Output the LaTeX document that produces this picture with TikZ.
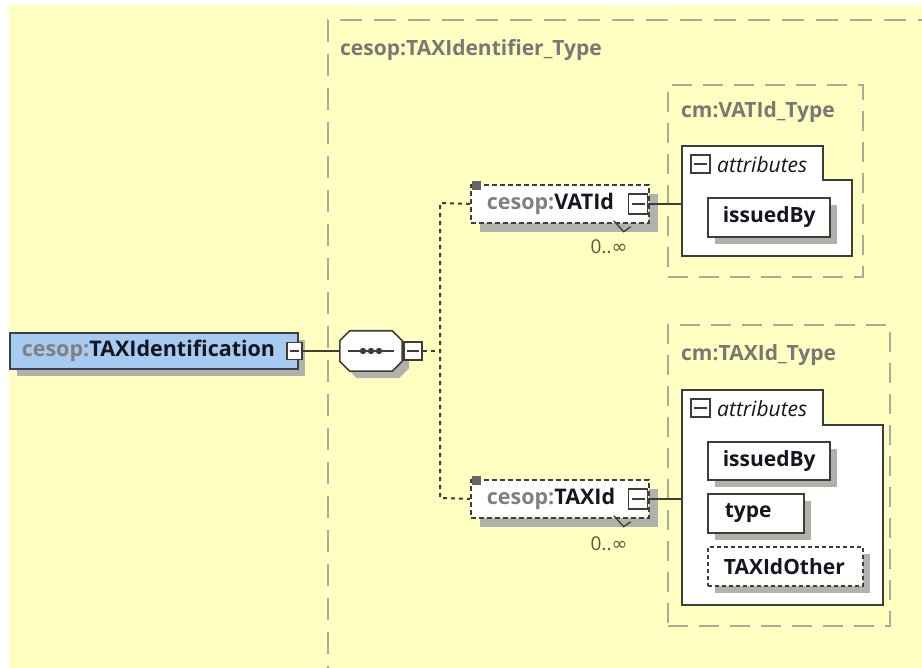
\documentclass[tikz,border=0pt]{standalone}
\usepackage{fontspec}
\setmainfont{Open Sans}
\newfontfamily\symfont{DejaVu Sans}
\usetikzlibrary{shadows}
\definecolor{bgyellow}{RGB}{255,255,194}
\definecolor{rootblue}{RGB}{166,202,240}
\definecolor{rootedge}{RGB}{58,64,76}
\definecolor{shade}{RGB}{178,178,172}
\definecolor{typegray}{RGB}{170,170,156}
\definecolor{edge}{RGB}{62,62,54}
\definecolor{pfx}{RGB}{128,128,128}
\definecolor{ink}{RGB}{22,22,32}
\definecolor{titlegray}{RGB}{120,120,116}
\definecolor{mult}{RGB}{90,90,60}
\tikzset{
  boxshadow/.style={general shadow={fill=shade, shadow xshift=#1, shadow yshift=-#1}},
  boxshadow/.default=7pt,
  elemtxt/.style={font=\bfseries\fontsize{21.5}{24}\selectfont, text=ink},
  rootbox/.style={elemtxt, draw=rootedge, line width=1.6pt, fill=rootblue, boxshadow,
    minimum height=36pt, anchor=north west, inner xsep=12pt, text width=264pt, align=left},
  elembox/.style={elemtxt, draw=edge, line width=1.7pt, dash pattern=on 5pt off 3pt, fill=white,
    boxshadow=9pt, minimum height=38pt, anchor=north west, inner xsep=16pt, text width=146pt, align=left},
  minusbox/.style={draw=edge, fill=white, line width=1.3pt, minimum width=15pt, minimum height=17pt,
    inner sep=0pt, path picture={\draw[edge, line width=1.3pt]
      ([xshift=3pt]path picture bounding box.west) -- ([xshift=-3pt]path picture bounding box.east);}},
  seqframe/.style={draw=none, minimum width=62pt, minimum height=40pt, inner sep=0pt},
  seqoct/.style={draw=edge, fill=white, line width=1.6pt, boxshadow},
  conn/.style={draw=edge, line width=1.6pt},
  dotconn/.style={draw=edge, line width=2pt, dash pattern=on 4pt off 4pt},
  outerdash/.style={draw=typegray, line width=2pt, dash pattern=on 22pt off 12pt},
  typebox/.style={draw=typegray, line width=2pt, dash pattern=on 20pt off 11pt},
  titletxt/.style={font=\bfseries\fontsize{21}{24}\selectfont, text=titlegray, inner sep=0pt},
  attrpoly/.style={draw=edge, fill=white, line width=1.7pt},
  attrlbl/.style={font=\itshape\fontsize{21}{24}\selectfont, text=ink, inner sep=0pt},
  attrname/.style={font=\bfseries\fontsize{21}{24}\selectfont, text=ink, draw=edge, line width=1.6pt,
    fill=white, boxshadow, anchor=north west, align=left},
  multtxt/.style={font=\fontsize{19}{21}\selectfont, text=mult, inner sep=0pt},
}
\begin{document}
\begin{tikzpicture}[x=1pt,y=-1pt]
\path[fill=white] (0,0) rectangle (922,668);
\fill[bgyellow] (9,5) rectangle (922,668);
\clip (0,0) rectangle (922,668);

% outer type box
\draw[outerdash] (940,20) -- (328,20) -- (328,700);
\node[titletxt, anchor=west] (outertitle) at (340,50) {cesop:TAXIdentifier\_Type};

% root element
\node[rootbox] (root) at (9,332) {{\color{pfx}cesop:}TAXIdentification};
\node[minusbox] (rootmin) at (294.5,351) {};

% sequence compositor
\node[seqframe] (seq) at (371,351) {};
\draw[seqoct] ([xshift=10pt]seq.north west) -- ([xshift=-10pt]seq.north east)
  -- ([yshift=-10pt]seq.north east) -- ([yshift=10pt]seq.south east)
  -- ([xshift=-10pt]seq.south east) -- ([xshift=10pt]seq.south west)
  -- ([yshift=10pt]seq.south west) -- ([yshift=-10pt]seq.north west) -- cycle;
\draw[edge, line width=1.6pt] ([xshift=8pt]seq.west) -- ([xshift=-8pt]seq.east);
\foreach \dx in {-8,0,8} \fill[edge] ([xshift=\dx pt]seq.center) circle (3.2pt);
\node[minusbox, minimum width=18pt, minimum height=18pt] (seqmin) at (413,351) {};
\draw[conn] (rootmin.east) -- (seq.west);

% VATId element
\node[elembox] (vat) at (470,184) {{\color{pfx}cesop:}VATId};
\node[minusbox, minimum width=19pt, minimum height=20pt] (vatmin) at (638,204) {};
\fill[gray!80!black] (vat.north west) ++(2,-3) rectangle ++(9,9);
\draw[edge, line width=1.3pt] (vat.south east) ++(-36,-3) -- ++(10,11) -- ++(7,-5);
\node[multtxt] (vatmult) at (609,247) {0..{\symfont ∞}};

% TAXId element
\node[elembox] (tax) at (470,479) {{\color{pfx}cesop:}TAXId};
\node[minusbox, minimum width=19pt, minimum height=20pt] (taxmin) at (638,499) {};
\fill[gray!80!black] (tax.north west) ++(2,-3) rectangle ++(9,9);
\draw[edge, line width=1.3pt] (tax.south east) ++(-36,-3) -- ++(10,11) -- ++(7,-5);
\node[multtxt] (taxmult) at (609,544) {0..{\symfont ∞}};

% dotted fork
\coordinate (fork) at (440,351);
\coordinate (forktop) at (440,203);
\coordinate (forkbot) at (440,498);
\draw[dotconn] (seqmin.east) -- (fork);
\draw[dotconn] (vat.west) -- (forktop) -- (forkbot) -- (tax.west);

% cm:VATId_Type
\node[typebox, minimum width=195pt, minimum height=192pt] (vattype) at (765.5,181) {};
\node[titletxt, anchor=west] (vattitle) at (681,112) {cm:VATId\_Type};
\draw[attrpoly] (682,146) -- (823,146) -- (823,180) -- (852,180) -- (852,256) -- (682,256) -- cycle;
\node[minusbox, minimum width=19pt, minimum height=18pt] (vatattmin) at (700.5,164) {};
\node[attrlbl, anchor=west] (vatattlbl) at (717,165) {attributes};
\node[attrname, inner xsep=15pt, text width=92pt, minimum height=39pt] (vatissued) at (707,197) {issuedBy};
\coordinate (vatattin) at (682,204);
\draw[conn] (vatmin.east) -- (vatattin);

% cm:TAXId_Type
\node[typebox, minimum width=222pt, minimum height=301pt] (taxtype) at (779,475.5) {};
\node[titletxt, anchor=west] (taxtitle) at (681,355) {cm:TAXId\_Type};
\draw[attrpoly] (682,390) -- (823,390) -- (823,425) -- (883,425) -- (883,605) -- (682,605) -- cycle;
\node[minusbox, minimum width=19pt, minimum height=18pt] (taxattmin) at (700.5,408) {};
\node[attrlbl, anchor=west] (taxattlbl) at (717,409) {attributes};
\node[attrname, inner xsep=15pt, text width=92pt, minimum height=38pt] (taxissued) at (707,441) {issuedBy};
\node[attrname, inner xsep=17pt, text width=62pt, minimum height=39pt] (taxtypeattr) at (707,493) {type};
\node[attrname, inner xsep=16pt, text width=123pt, minimum height=39pt, dash pattern=on 4pt off 3pt] (taxother) at (707,546) {TAXIdOther};
\coordinate (taxattin) at (682,499);
\draw[conn] (taxmin.east) -- (taxattin);
\end{tikzpicture}
\end{document}
